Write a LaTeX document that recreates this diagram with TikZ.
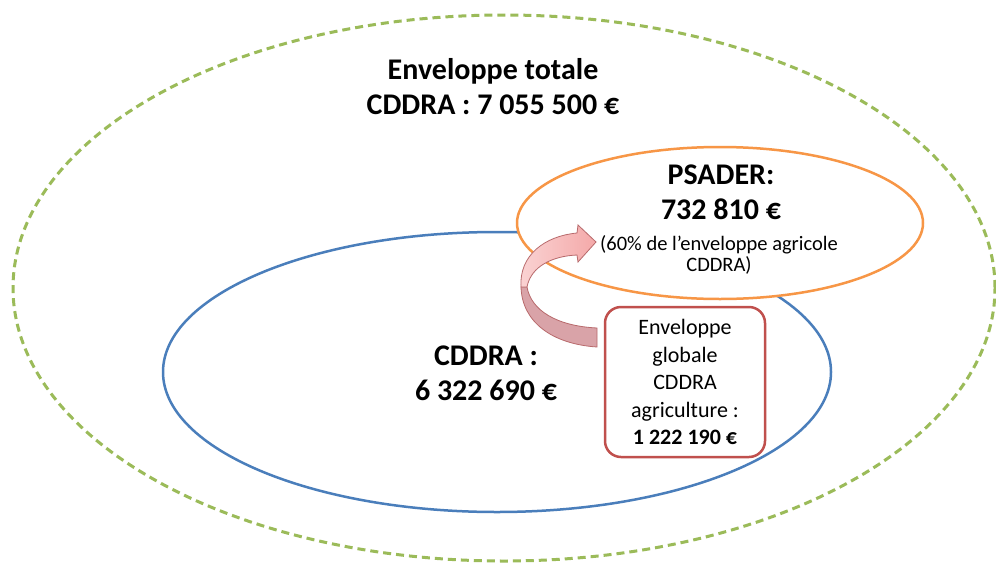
\documentclass[tikz,border=0pt]{standalone}
\usepackage{fontspec}
\setmainfont{Carlito}
\usetikzlibrary{shapes.geometric}
\definecolor{olivegreen}{HTML}{9BBB59}
\definecolor{bluebord}{HTML}{4A7EBB}
\definecolor{orangebord}{HTML}{F79646}
\definecolor{redbord}{HTML}{C0504D}
\definecolor{arrowfront}{HTML}{F4A9A9}
\definecolor{arrowlight}{HTML}{FAD3D3}
\definecolor{arrowback}{HTML}{D9A3A8}
\definecolor{arrowedge}{HTML}{B86A6C}
\tikzset{
  bigtext/.style={align=center, inner sep=0pt, font=\bfseries\fontsize{30}{35}\selectfont},
  smalltext/.style={align=center, inner sep=0pt, font=\fontsize{20.5}{21.5}\selectfont},
  boxtext/.style={align=center, inner sep=0pt, font=\fontsize{22}{27.5}\selectfont},
  ellbase/.style={ellipse, inner sep=0pt, line width=2.5pt},
}
\begin{document}
\begin{tikzpicture}[x=1pt,y=-1pt]
\useasboundingbox (0,0) rectangle (996,568);
\fill[white] (0,0) rectangle (996,568);
% outer dashed ellipse
\node[ellbase, draw=olivegreen, line width=3pt, dash pattern=on 8pt off 5pt,
      minimum width=982pt, minimum height=546pt] (outer) at (504,288) {};
% blue ellipse
\node[ellbase, draw=bluebord, minimum width=668pt, minimum height=280pt] (cddra) at (497,372) {};
% orange ellipse (white fill hides the blue line)
\node[ellbase, draw=orangebord, fill=white, minimum width=406pt, minimum height=152pt] (psader) at (720,223) {};
% red box
\node[draw=redbord, line width=2.5pt, rounded corners=16pt, fill=white,
      minimum width=160pt, minimum height=150pt, inner sep=0pt] (agri) at (685,382) {};
% curved arrow (back part)
\fill[arrowback, draw=arrowedge, line width=0.8pt]
  (597,328) .. controls (556,326) and (531,310) .. (527,287)
  -- (521,287) .. controls (522,322) and (552,344) .. (597,347) -- cycle;
% curved arrow (front part)
\shade[left color=arrowlight, right color=arrowfront, draw=arrowedge, line width=0.8pt]
  (521,287) .. controls (519,255) and (545,236) .. (577,233)
  -- (578,225) -- (596,242) -- (578,262) -- (577,255)
  .. controls (553,256) and (531,266) .. (527,287) -- cycle;
% texts
\node[bigtext] (ttot) at (493,87) {Enveloppe totale\\CDDRA : 7 055 500 €};
\node[bigtext] (tpsader) at (721,192) {PSADER:\\732 810 €};
\node[smalltext] (tpct) at (719,255) {(60\% de l’enveloppe agricole\\CDDRA)};
\node[bigtext] (tcddra) at (486,373) {CDDRA :\\6 322 690 €};
\node[boxtext] (tagri) at (685,382) {Enveloppe\\globale\\CDDRA\\agriculture :\\\textbf{1 222 190 €}};
\end{tikzpicture}
\end{document}
